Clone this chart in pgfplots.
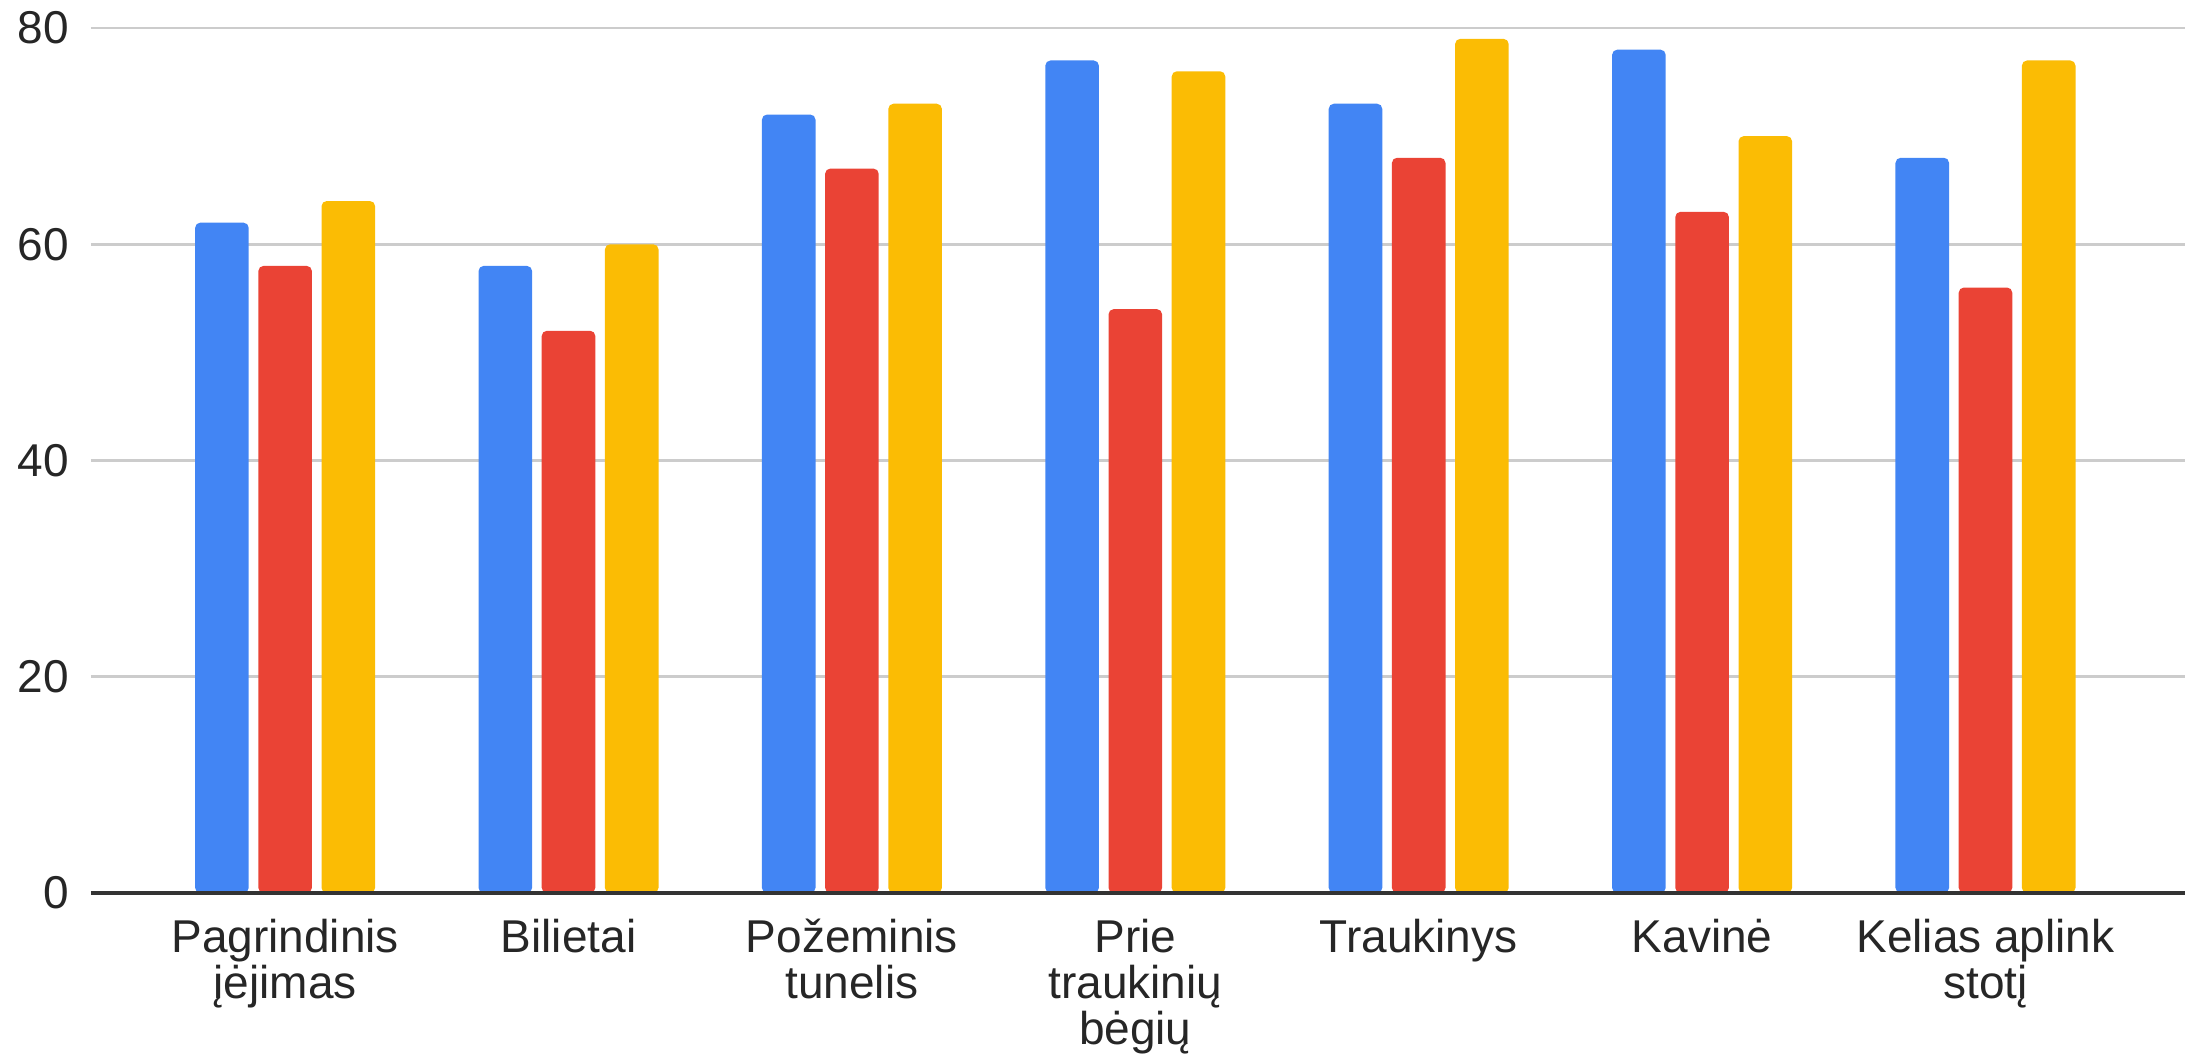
\documentclass[border=0pt]{standalone}
\usepackage{pgfplots}
\pgfplotsset{compat=1.18}
\usepackage{fontspec}
\setmainfont{Liberation Sans}

\definecolor{gblue}{HTML}{4285F4}
\definecolor{gred}{HTML}{EA4335}
\definecolor{gyellow}{HTML}{FBBC04}
\definecolor{gridgray}{HTML}{CCCCCC}

\begin{document}
\begin{tikzpicture}
\begin{axis}[
    at={(0,0)}, anchor=south west,
    scale only axis,
    width=523.5pt, height=216.25pt,
    xmin=-0.685, xmax=6.704,
    ymin=0, ymax=80,
    ytick={0,20,40,60,80},
    xtick={0,1,2,3,4,5,6},
    xticklabels={{Pagrindinis\\įėjimas},{Bilietai},{Požeminis\\tunelis},{Prie\\traukinių\\bėgių},{Traukinys},{Kavinė},{Kelias aplink\\stotį}},
    major tick length=0pt,
    axis line style={draw=none},
    ymajorgrids=true,
    grid style={draw=gridgray, line width=0.7pt},
    ybar=2.4pt,
    bar width=13.4pt,
    /pgf/number format/assume math mode=true,
    tick label style={font=\fontsize{11.5}{11.5}\selectfont, text=black!85},
    x tick label style={align=center, yshift=-3pt},
    y tick label style={xshift=-2pt},
    clip=false,
]
\addplot[draw=none, fill=gblue, rounded corners=1.3pt] coordinates {
    (0,62) (1,58) (2,72) (3,77) (4,73) (5,78) (6,68)};
\addplot[draw=none, fill=gred, rounded corners=1.3pt] coordinates {
    (0,58) (1,52) (2,67) (3,54) (4,68) (5,63) (6,56)};
\addplot[draw=none, fill=gyellow, rounded corners=1.3pt] coordinates {
    (0,64) (1,60) (2,73) (3,76) (4,79) (5,70) (6,77)};
\draw[black!80, line width=1pt] (rel axis cs:0,0) -- (rel axis cs:1,0);
\end{axis}
\pgfresetboundingbox
\path (-22.75pt,-40.25pt) rectangle (523.5pt,223.25pt);
\end{tikzpicture}
\end{document}
